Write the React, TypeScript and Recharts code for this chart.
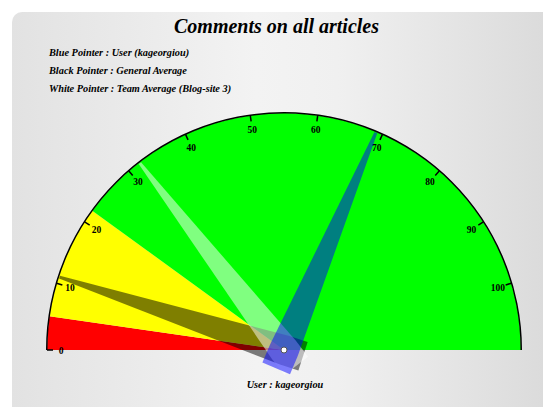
import React from 'react'
import { PieChart, Pie, Cell } from 'recharts'

// gauge scale
const GAUGE_MAX = 110

// coloured zones of the dial
const bandNames = ['low', 'medium', 'high']
const bandSizes = [5, 17, 88]
const bandColors = ['#ff0000', '#ffff00', '#00ff00']

// dial ticks
const tickValues = [0, 10, 20, 30, 40, 50, 60, 70, 80, 90, 100]

// pointers
const pointerNames = ['General Average', 'Team Average (Blog-site 3)', 'User (kageorgiou)']
const pointerValues = [11, 32, 69]
const pointerColors = ['rgba(0,0,0,0.5)', 'rgba(255,255,255,0.5)', 'rgba(0,0,255,0.5)']

const legendLines = [
  'Blue Pointer : User (kageorgiou)',
  'Black Pointer : General Average',
  'White Pointer : Team Average (Blog-site 3)'
]

const W = 543
const H = 407
const CX = 284
const CY = 350
const R = 237
const RAD = Math.PI / 180

const serif = '"Liberation Serif", "Times New Roman", serif'

const bandData = bandNames.map((name, i) => ({ name, value: bandSizes[i] }))

const tickData = tickValues.map((t, i) => ({
  name: String(t),
  value: (i < tickValues.length - 1 ? tickValues[i + 1] : GAUGE_MAX) - t
}))

const polar = (cx: number, cy: number, r: number, angle: number) => ({
  x: cx + r * Math.cos(-angle * RAD),
  y: cy + r * Math.sin(-angle * RAD)
})

const renderTick = (props: any) => {
  const { cx, cy, outerRadius, startAngle, index } = props
  const p1 = polar(cx, cy, outerRadius, startAngle)
  const p2 = polar(cx, cy, outerRadius - 6, startAngle)
  const pl = polar(cx, cy, outerRadius - 14, startAngle)
  return (
    <g key={`tick-${index}`}>
      <line x1={p1.x} y1={p1.y} x2={p2.x} y2={p2.y} stroke="#000" strokeWidth={1.5} />
      <text
        x={pl.x}
        y={pl.y + 1}
        textAnchor="middle"
        dominantBaseline="central"
        fontFamily={serif}
        fontWeight="bold"
        fontSize={9.5}
        fill="#000"
      >
        {tickValues[index]}
      </text>
    </g>
  )
}

const needleRenderer = (color: string, withHub: boolean) => (props: any) => {
  const { cx, cy, outerRadius, endAngle, index } = props
  if (index !== 0) return <g key={`n-${index}`} />
  const a = endAngle * RAD
  const ux = Math.cos(a)
  const uy = -Math.sin(a)
  const px = Math.sin(a)
  const py = Math.cos(a)
  const tipR = outerRadius - 1
  const tail = 20
  const baseW = 15
  const tipW = 1.5
  const pts = [
    [cx + ux * tipR + px * tipW, cy + uy * tipR + py * tipW],
    [cx + px * baseW, cy + py * baseW],
    [cx - ux * tail + px * baseW, cy - uy * tail + py * baseW],
    [cx - ux * tail - px * baseW, cy - uy * tail - py * baseW],
    [cx - px * baseW, cy - py * baseW],
    [cx + ux * tipR - px * tipW, cy + uy * tipR - py * tipW]
  ]
  return (
    <g key={`n-${index}`}>
      <polygon points={pts.map(p => p.join(',')).join(' ')} fill={color} stroke="none" />
      {withHub && <circle cx={cx} cy={cy} r={3} fill="#fff" stroke="#555" strokeWidth={1} />}
    </g>
  )
}

export default function App() {
  return (
    <div style={{ position: 'absolute', left: 0, top: 0, width: W, height: H, overflow: 'hidden', background: '#fff' }}>
      <div
        style={{
          position: 'absolute',
          left: 12,
          top: 12,
          width: W,
          height: H,
          borderRadius: 10,
          background: 'linear-gradient(to right, #e2e2e2 0%, #f3f3f3 45%, #f0f0f0 60%, #dadada 100%)'
        }}
      />
      <div style={{ position: 'absolute', left: 0, top: 0 }}>
        <PieChart width={W} height={H} margin={{ top: 0, right: 0, bottom: 0, left: 0 }}>
          <Pie
            data={bandData}
            dataKey="value"
            cx={CX}
            cy={CY}
            innerRadius={0}
            outerRadius={R}
            startAngle={180}
            endAngle={0}
            stroke="none"
            isAnimationActive={false}
          >
            {bandData.map((b, i) => (
              <Cell key={b.name} fill={bandColors[i]} />
            ))}
          </Pie>
          <Pie
            data={[{ name: 'rim', value: GAUGE_MAX }]}
            dataKey="value"
            cx={CX}
            cy={CY}
            innerRadius={R - 0.5}
            outerRadius={R + 1}
            startAngle={180}
            endAngle={0}
            fill="#000"
            stroke="none"
            isAnimationActive={false}
          />
          <Pie
            data={tickData}
            dataKey="value"
            cx={CX}
            cy={CY}
            innerRadius={R - 1}
            outerRadius={R}
            startAngle={180}
            endAngle={0}
            fill="none"
            stroke="none"
            label={renderTick}
            labelLine={false}
            isAnimationActive={false}
          />
          {pointerValues.map((v, i) => (
            <Pie
              key={pointerNames[i]}
              data={[
                { name: pointerNames[i], value: v },
                { name: 'rest', value: GAUGE_MAX - v }
              ]}
              dataKey="value"
              cx={CX}
              cy={CY}
              innerRadius={R - 1}
              outerRadius={R}
              startAngle={180}
              endAngle={0}
              fill="none"
              stroke="none"
              label={needleRenderer(pointerColors[i], i === pointerValues.length - 1)}
              labelLine={false}
              isAnimationActive={false}
            />
          ))}
        </PieChart>
      </div>
      <div
        style={{
          position: 'absolute',
          left: 0,
          top: 14,
          width: 553,
          textAlign: 'center',
          fontFamily: serif,
          fontWeight: 'bold',
          fontStyle: 'italic',
          fontSize: 20,
          color: '#000',
          lineHeight: '24px'
        }}
      >
        Comments on all articles
      </div>
      {legendLines.map((line, i) => (
        <div
          key={line}
          style={{
            position: 'absolute',
            left: 49,
            top: 46 + i * 17.8,
            fontFamily: serif,
            fontWeight: 'bold',
            fontStyle: 'italic',
            fontSize: 10.3,
            lineHeight: '14px',
            color: '#000',
            whiteSpace: 'nowrap'
          }}
        >
          {line}
        </div>
      ))}
      <div
        style={{
          position: 'absolute',
          left: 185,
          top: 378,
          width: 200,
          textAlign: 'center',
          fontFamily: serif,
          fontWeight: 'bold',
          fontStyle: 'italic',
          fontSize: 10.3,
          lineHeight: '14px',
          color: '#000'
        }}
      >
        User : kageorgiou
      </div>
    </div>
  )
}
